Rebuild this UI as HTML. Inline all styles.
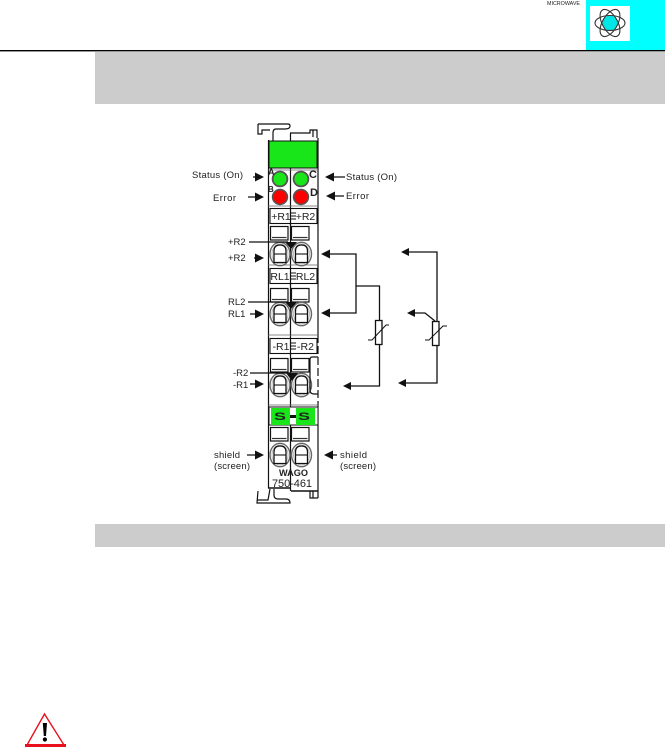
<!DOCTYPE html>
<html><head><meta charset="utf-8"><style>
html,body{margin:0;padding:0;background:#fff;width:665px;height:747px;overflow:hidden}
svg{display:block}
text{font-family:"Liberation Sans",sans-serif;fill:#222}
</style></head><body>
<svg width="665" height="747" viewBox="0 0 665 747" xmlns="http://www.w3.org/2000/svg">
<defs>
<g id="sq"><rect x="0.5" y="0.5" width="17.5" height="13.5" fill="#fff" stroke="#111" stroke-width="1.2"/><path d="M2,11.5 H16.5" stroke="#333" stroke-width="1.2"/></g>
<g id="cl"><ellipse cx="0" cy="0" rx="10" ry="11.7" fill="#fff" stroke="#666" stroke-width="1.4"/><ellipse cx="0" cy="0" rx="8" ry="10" fill="none" stroke="#bbb" stroke-width="1"/><path d="M-6,8.5 V-3 Q-6,-9 0,-9 Q6,-9 6,-3 V8.5 Z" fill="#fff" stroke="#111" stroke-width="1.3"/><path d="M-6,0 H6" stroke="#111" stroke-width="1.1"/></g>
</defs>
<rect x="586" y="0" width="79" height="50" fill="#00ffff"/>
<rect x="590" y="6" width="40" height="35" fill="#fff"/>
<circle cx="610" cy="23" r="7.5" fill="#00e5e5"/>
<g fill="none" stroke="#333" stroke-width="1.1"><ellipse cx="610" cy="23" rx="15" ry="7.5"/><ellipse cx="610" cy="23" rx="15" ry="7.5" transform="rotate(60 610 23)"/><ellipse cx="610" cy="23" rx="15" ry="7.5" transform="rotate(120 610 23)"/></g>
<text x="547" y="5" font-size="5.2" textLength="33" lengthAdjust="spacingAndGlyphs">MICROWAVE</text>
<rect x="0" y="50" width="665" height="1.4" fill="#000"/>
<rect x="95" y="52" width="570" height="52" fill="#ccc"/>
<rect x="95" y="524" width="570" height="23" fill="#ccc"/>

<!-- module outline -->
<g fill="none" stroke="#111" stroke-width="1.2">
<path d="M268.5,140 V488 M290.5,133 V491"/>
<path d="M318,138 V335 M318,405 V498"/>
<path d="M318,335 V405" stroke-dasharray="8 3"/>
<path d="M258,124 V134 H262 V130 H270 M258,124 H288 Q290,124 290,126 Q290,129 285,129 H276 Q273,129 273,133 V141"/>
<path d="M290,133 H310 V130 H317 V138 M313,130 V137"/>
<path d="M268,488 H291 M291,491 H318" stroke-width="1.6"/>
<path d="M258,491 L257,503 H290 Q290,499 286,499 H278 Q274,499 274,495 V489 M257,500 H268 L270,489"/>
<path d="M310,491 V498 H318 M313,491 V498"/>
</g>
<rect x="269" y="141" width="48" height="27" fill="#19e619" stroke="#111" stroke-width="1"/>
<path d="M268,170 H318 M268,206 H318 M268,265 H318 M268,335 H318 M268,405 H318" stroke="#666" stroke-width="0.8"/>
<circle cx="280" cy="179" r="7.4" fill="#19e619" stroke="#555" stroke-width="1.8"/>
<circle cx="301" cy="179" r="7.4" fill="#19e619" stroke="#555" stroke-width="1.8"/>
<circle cx="280" cy="197" r="7.4" fill="#f00" stroke="#555" stroke-width="1.6"/>
<circle cx="301" cy="197" r="7.4" fill="#f00" stroke="#555" stroke-width="1.6"/>
<text x="268" y="175" font-size="9" font-weight="bold">A</text>
<text x="309" y="178" font-size="11" font-weight="bold">C</text>
<text x="268" y="192" font-size="8" font-weight="bold">B</text>
<text x="310" y="196" font-size="11" font-weight="bold">D</text>

<!-- label boxes -->
<g fill="#fff" stroke="#111" stroke-width="1.1">
<rect x="270" y="208.5" width="47" height="15"/><rect x="270" y="268.5" width="47" height="15"/><rect x="270" y="338.5" width="47" height="15"/>
</g>
<g font-size="10.5" text-anchor="middle">
<text x="281" y="220">+R1</text><text x="305.5" y="220">+R2</text>
<text x="280" y="280">RL1</text><text x="305.5" y="280">RL2</text>
<text x="281" y="350">-R1</text><text x="305.5" y="350">-R2</text>
</g>
<path d="M290,213 H296 M290,216 H296 M290,219 H296 M290,273 H296 M290,276 H296 M290,279 H296 M290,343 H296 M290,346 H296 M290,349 H296" stroke="#111" stroke-width="0.9"/>
<path d="M290.5,208 V225 M290.5,268 V285 M290.5,338 V355" stroke="#111" stroke-width="1.2"/>

<use href="#sq" x="270" y="226"/><use href="#sq" x="291" y="226"/>
<use href="#sq" x="270" y="288"/><use href="#sq" x="291" y="288"/>
<use href="#sq" x="270" y="358"/><use href="#sq" x="291" y="358"/>
<use href="#sq" x="270" y="427"/><use href="#sq" x="291" y="427"/>
<use href="#cl" x="280" y="254"/><use href="#cl" x="301.5" y="254"/>
<use href="#cl" x="280" y="314"/><use href="#cl" x="301.5" y="314"/>
<use href="#cl" x="280" y="385"/><use href="#cl" x="301.5" y="385"/>
<use href="#cl" x="280" y="455"/><use href="#cl" x="301.5" y="455"/>
<path d="M318,357 H312 Q310,357 310,360 V390 Q310,394 314,394 H318" fill="none" stroke="#111" stroke-width="1.2"/>

<!-- green S -->
<rect x="269" y="407" width="49" height="18" fill="#fff" stroke="#111" stroke-width="1"/>
<rect x="271" y="408" width="19" height="17" fill="#19e619"/>
<rect x="296" y="408" width="19" height="17" fill="#19e619"/>
<rect x="290" y="415" width="6" height="3" fill="#111"/>
<g font-size="11" font-weight="bold" text-anchor="middle"><text x="280" y="420" textLength="12" lengthAdjust="spacingAndGlyphs">S</text><text x="304" y="420" textLength="12" lengthAdjust="spacingAndGlyphs">S</text></g>

<text x="279" y="476" font-size="9" font-weight="bold" textLength="29" lengthAdjust="spacingAndGlyphs">WAGO</text>
<text x="272" y="487" font-size="11" textLength="40" lengthAdjust="spacing">750-461</text>

<!-- left labels -->
<g font-size="9.5">
<text x="192" y="178" textLength="51">Status (On)</text>
<text x="213" y="201" textLength="23">Error</text>
<text x="228" y="245">+R2</text>
<text x="228" y="261">+R2</text>
<text x="228" y="305">RL2</text>
<text x="228" y="317">RL1</text>
<text x="233" y="376">-R2</text>
<text x="233" y="388">-R1</text>
<text x="214" y="458" textLength="26">shield</text>
<text x="214" y="469" textLength="36">(screen)</text>
<text x="346" y="180" textLength="51">Status (On)</text>
<text x="346" y="199" textLength="23">Error</text>
<text x="340" y="458" textLength="27">shield</text>
<text x="340" y="469" textLength="36">(screen)</text>
</g>

<!-- connectors -->
<g stroke="#111" stroke-width="1.3" fill="none">
<path d="M253,177 H258 M248,197 H258 M254,258 H258 M250,314 H258 M250,384 H258 M247,455 H258 M331,177 H345 M331,196 H344 M331,455 H337"/>
<path d="M249,242 H288 M248,302 H288 M250,373 H290"/>
<path d="M327,254 H356 V313 H327 M356,286 H379.5 V320 M379.5,344 V386 H348"/>
<path d="M407,252 H437 V321 M437,346 V383 H404 M412,313 H425 L435,321"/>
<rect x="375.5" y="320.5" width="6.5" height="24" fill="#fff"/>
<rect x="432.5" y="321.5" width="6.5" height="24" fill="#fff"/>
<path d="M368,340 H372 L386,325 H389 M425,340 H429 L443,326 H447" stroke-width="1"/>
</g>
<g fill="#111">
<path d="M264,177 L255,172.5 V181.5Z M264,197 L255,192.5 V201.5Z M264,258 L255,253.5 V262.5Z M264,314 L255,309.5 V318.5Z M264,384 L255,379.5 V388.5Z M264,455 L255,450.5 V459.5Z"/>
<path d="M325,177 L334,172.5 V181.5Z M326,196 L335,191.5 V200.5Z M321,254 L330,249.5 V258.5Z M321,313 L330,308.5 V317.5Z M324,455 L333,450.5 V459.5Z"/>
<path d="M343,386 L351,382 V390Z M401,252 L409,248 V256Z M407,313 L415,309 V317Z M398,383 L406,379 V387Z"/>
<path d="M291,249 L285,242 H297Z M291,309 L285,302 H297Z M292,381 L286,373 H298Z"/>
</g>

<!-- warning -->
<path d="M44.5,714 L27,745 H64 Z" fill="#fff" stroke="#e8101c" stroke-width="1.4"/>
<rect x="25" y="744" width="41" height="3" fill="#e8101c"/>
<path d="M42.8,723 H47 L46,736 H43.8 Z" fill="#000"/><circle cx="44.9" cy="739.5" r="2.1" fill="#000"/>
</svg>
</body></html>
